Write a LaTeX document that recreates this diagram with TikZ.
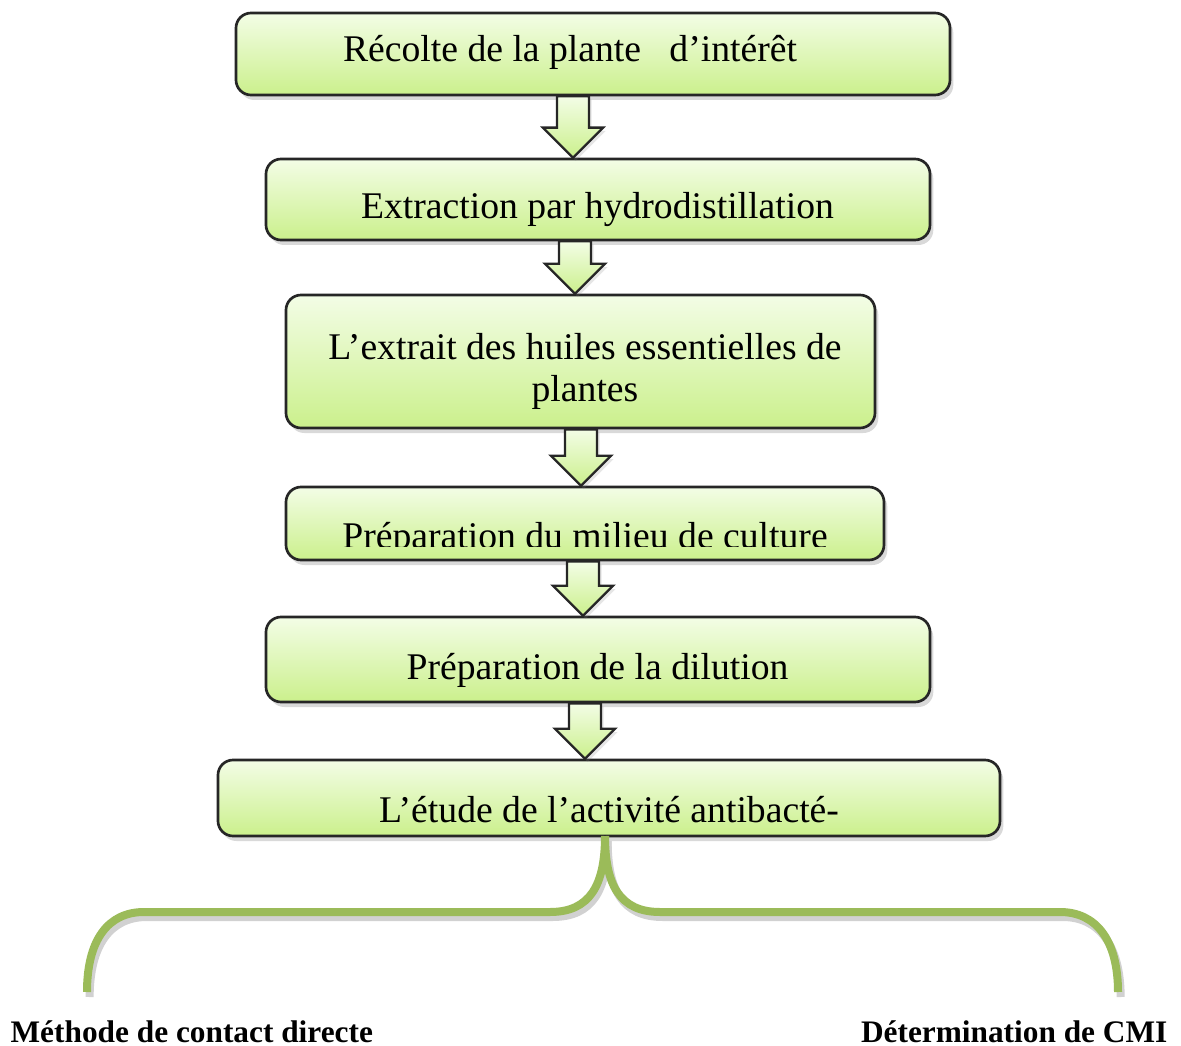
\documentclass[tikz,border=0pt]{standalone}
\usepackage{fontspec}
\setmainfont{Liberation Serif}
\usepackage{tikz}
\usetikzlibrary{positioning, calc, shadows}
\definecolor{vertclair}{HTML}{F3FDE6}
\definecolor{vertfonce}{HTML}{CBF08C}
\definecolor{vertolive}{HTML}{9BBB59}
\newcommand{\flechebloc}[3]{% abscisse, boite du haut, boite du bas
    \path[fleche] ($(#1 |- #2.south)+(-4.8pt,0)$) -- ($(#1 |- #2.south)+(4.8pt,0)$)
        -- ($(#1 |- #3.north)+(4.8pt,9pt)$) -- ($(#1 |- #3.north)+(9pt,9pt)$)
        -- (#1 |- #3.north)
        -- ($(#1 |- #3.north)+(-9pt,9pt)$) -- ($(#1 |- #3.north)+(-4.8pt,9pt)$) -- cycle;
}

\begin{document}
\begin{tikzpicture}[x=0.3pt,y=-0.3pt,
    boite/.style={draw=black!85, line width=0.8pt, rounded corners=4.5pt,
        top color=vertclair, bottom color=vertfonce,
        drop shadow={opacity=0.3, shadow xshift=1pt, shadow yshift=-1.5pt}},
    fleche/.style={draw=black!85, line width=0.7pt, top color=vertclair, bottom color=vertfonce,
        drop shadow={opacity=0.2, shadow xshift=0.8pt, shadow yshift=-1pt}},
    texte/.style={font=\fontsize{11.3}{12.6}\selectfont, inner sep=0pt},
    titre/.style={font=\fontsize{9.4}{11}\selectfont\bfseries, inner sep=0pt},
    accolade/.style={draw=vertolive, line width=2.4pt,
        preaction={draw=black!18, line width=2.4pt, transform canvas={xshift=0.8pt,yshift=-1.5pt}}}]
    \useasboundingbox (0,0) rectangle (1181,1046);

    % les etapes
    \node[boite, minimum width=214.2pt, minimum height=24.6pt] (recolte) at (593,54) {};
    \node[boite, minimum width=199.2pt, minimum height=24.3pt] (extraction) at (598,199.5) {};
    \node[boite, minimum width=176.7pt, minimum height=39.9pt] (extrait) at (580.5,361.5) {};
    \node[boite, minimum width=179.4pt, minimum height=21.9pt] (milieu) at (585,523.5) {};
    \node[boite, minimum width=199.2pt, minimum height=25.5pt] (dilution) at (598,659.5) {};
    \node[boite, minimum width=234.6pt, minimum height=22.8pt] (etude) at (609,798) {};

    \node[texte, anchor=base] (t-recolte) at (570,62) {Récolte de la plante\ \ \ d’intérêt};
    \node[texte, anchor=base] (t-extraction) at (597.5,219) {Extraction par hydrodistillation};
    \node[texte, align=center] (t-extrait) at (585,371) {L’extrait des huiles essentielles de\\plantes};
    \begin{scope}
        \clip (milieu.north west) rectangle (884,546.5);
        \node[texte, anchor=base] (t-milieu) at (585,548.5) {Préparation du milieu de culture};
    \end{scope}
    \node[texte, anchor=base] (t-dilution) at (597.5,679) {Préparation de la dilution};
    \node[texte, anchor=base] (t-etude) at (609,822) {L’étude de l’activité antibacté-};

    % les fleches
    \coordinate (x1) at (573,0);
    \coordinate (x2) at (575,0);
    \coordinate (x3) at (581,0);
    \coordinate (x4) at (583,0);
    \coordinate (x5) at (585,0);
    \flechebloc{x1}{recolte}{extraction}
    \flechebloc{x2}{extraction}{extrait}
    \flechebloc{x3}{extrait}{milieu}
    \flechebloc{x4}{milieu}{dilution}
    \flechebloc{x5}{dilution}{etude}

    % l'accolade
    \node[titre, anchor=base west] (contact) at (10,1042) {Méthode de contact directe};
    \node[titre, anchor=base east] (cmi) at (1168,1042) {Détermination de CMI};
    \coordinate (pointe) at (605,836);
    \coordinate (gauche) at (87,992);
    \coordinate (droite) at (1118,992);
    \draw[accolade] (pointe) .. controls (605,885) and (590,912) .. (550,912) -- (144,912)
        .. controls (108,912) and (87,940) .. (gauche);
    \draw[accolade] (pointe) .. controls (605,885) and (620,912) .. (660,912) -- (1060,912)
        .. controls (1096,912) and (1118,940) .. (droite);
\end{tikzpicture}
\end{document}
